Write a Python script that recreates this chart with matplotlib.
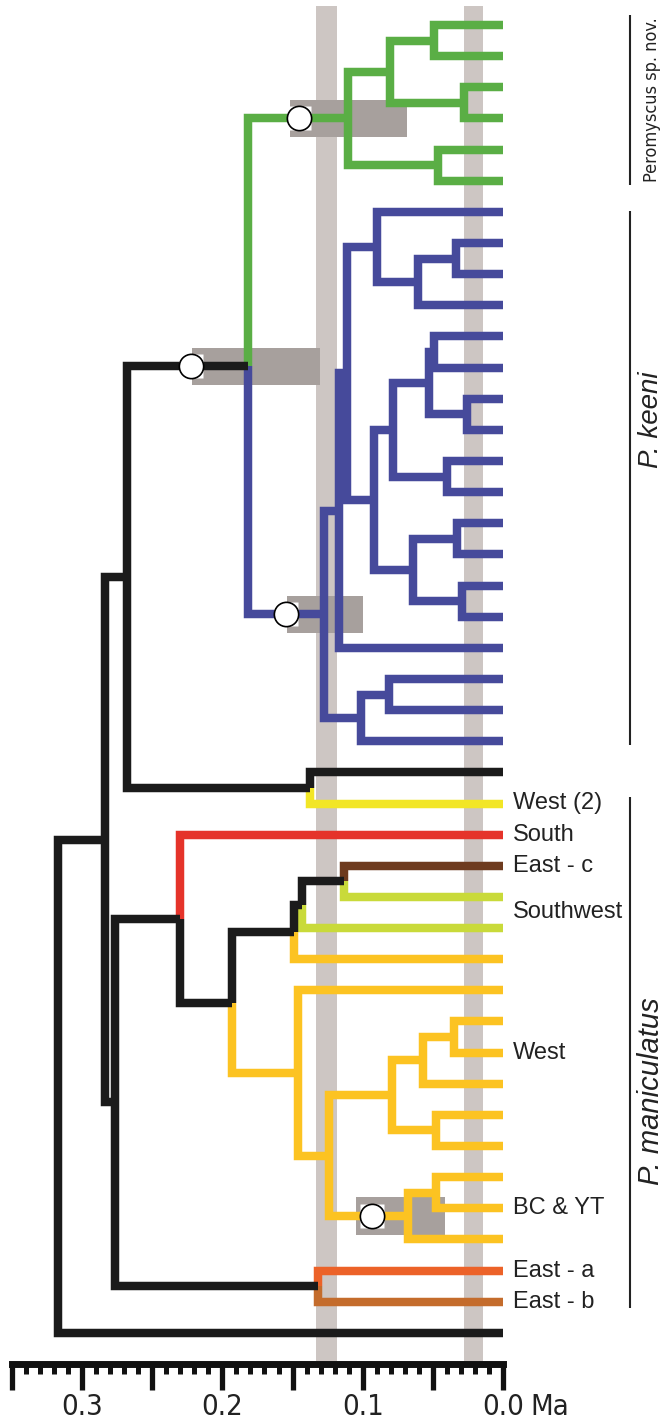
import matplotlib
matplotlib.use("Agg")
import matplotlib.pyplot as plt
from matplotlib.ticker import MultipleLocator, FuncFormatter

# ---------------- colours ----------------
GREEN = '#5aae45'
BLUE = '#464a9b'
BLACK = '#1b1b1b'
YEL = '#f2e626'
RED = '#e5332a'
BROWN = '#6e3b1f'
YG = '#c9da3a'
ORG = '#fcc322'
EA = '#ec6228'
EB = '#c46c2c'
BAND = '#cdc6c3'
BOX = '#a7a09d'

# ---------------- data ----------------
tip_colors = [GREEN] * 6 + [BLUE] * 18 + [BLACK, YEL, RED, BROWN, YG, YG] + [ORG] * 10 + [EA, EB, BLACK]
tip_names = ['t%d' % i for i in range(len(tip_colors))]

label_texts = ['West (2)', 'South', 'East - c', 'Southwest', 'West', 'BC & YT', 'East - a', 'East - b']
label_rows = [25, 26, 27, 28.5, 33, 38, 40, 41]

node_names = ['g11', 'g12', 'g1', 'g2', 'gC',
              'bE', 'bD', 'bC', 'bN', 'bO', 'bL', 'bM', 'bJ', 'bP', 'bQ', 'bK', 'bI', 'bH', 'bG', 'bB', 'bA', 'bCr',
              'K0', 'R', 'S', 'CC', 'BB', 'AA', 'II', 'HH', 'GG', 'FF', 'KK', 'JJ', 'EE', 'DD', 'W', 'V', 'Z', 'Y', 'U', 'root']
node_ages = [0.0492, 0.0278, 0.0805, 0.0463, 0.1105,
             0.0335, 0.0606, 0.0900, 0.0490, 0.0257, 0.0530, 0.0400, 0.0784, 0.0330, 0.0295, 0.0641, 0.0920, 0.1110, 0.1170, 0.0813, 0.1010, 0.1276,
             0.1818, 0.1376, 0.2680, 0.1133, 0.1433, 0.1490, 0.0349, 0.0570, 0.0478, 0.0791, 0.0478, 0.0677, 0.1240, 0.1461, 0.1932, 0.2302, 0.1319, 0.2765, 0.2837, 0.3172]
node_children = [('t0', 't1'), ('t2', 't3'), ('g11', 'g12'), ('t4', 't5'), ('g1', 'g2'),
                 ('t7', 't8'), ('bE', 't9'), ('t6', 'bD'), ('t10', 't11'), ('t12', 't13'), ('bN', 'bO'), ('t14', 't15'),
                 ('bL', 'bM'), ('t16', 't17'), ('t18', 't19'), ('bP', 'bQ'), ('bJ', 'bK'), ('bC', 'bI'), ('bH', 't20'),
                 ('t21', 't22'), ('bB', 't23'), ('bG', 'bA'),
                 ('gC', 'bCr'), ('t24', 't25'), ('K0', 'R'), ('t27', 't28'), ('CC', 't29'), ('BB', 't30'),
                 ('t32', 't33'), ('II', 't34'), ('t35', 't36'), ('HH', 'GG'), ('t37', 't38'), ('KK', 't39'),
                 ('FF', 'JJ'), ('t31', 'EE'), ('AA', 'DD'), ('t26', 'W'), ('t40', 't41'), ('V', 'Z'), ('S', 'Y'), ('U', 't42')]
node_colors = [GREEN] * 5 + [BLUE] * 17 + [BLACK] * 6 + [ORG] * 8 + [BLACK] * 6

# divergence-time boxes (95% HPD) and calibration circles
box_nodes = ['gC', 'K0', 'bCr', 'JJ']
box_young = [0.0684, 0.1304, 0.0998, 0.0413]
box_old = [0.1518, 0.2217, 0.1540, 0.1048]
circle_ages = [0.1454, 0.2224, 0.1547, 0.0934]

# background bands (Ma)
band_young = [0.1183, 0.0143]
band_old = [0.1333, 0.0278]

# clades on the right
clade_first = [-0.32, 5.97, 24.8]
clade_last = [5.14, 23.12, 41.2]

# axis
axis_major = 0.05
axis_minor = 0.01
axis_max = 0.35

# ---------------- geometry ----------------
W, H, DPI = 664, 1421, 100
X0, PX_PER_MA = 503.0, 1403.0
Y0, PX_PER_ROW = 25.0, 31.14

def t_at(px):
    return (X0 - px) / PX_PER_MA

def row_at(py):
    return (py - Y0) / PX_PER_ROW

COND = dict(family=['DejaVu Sans'], fontstretch='condensed')

fig = plt.figure(figsize=(W / DPI, H / DPI), dpi=DPI)
ax = fig.add_axes([0, 0, 1, 1])
ax.set_xlim(t_at(0), t_at(W))
ax.set_ylim(row_at(H), row_at(0))
ax.axis('off')

# positions
age = {n: 0.0 for n in tip_names}
ypos = {n: float(i) for i, n in enumerate(tip_names)}
color = dict(zip(tip_names, tip_colors))
kids = dict(zip(node_names, node_children))
for n, a, ch, c in zip(node_names, node_ages, node_children, node_colors):
    age[n] = a
    ypos[n] = (ypos[ch[0]] + ypos[ch[-1]]) / 2.0
    color[n] = c

LW = 6.1
# bands
for y0, o0 in zip(band_young, band_old):
    ax.axvspan(o0, y0, ymin=1 - 1361 / H, ymax=1 - 6 / H, color=BAND, lw=0, zorder=0)

# boxes
for n, yo, ol in zip(box_nodes, box_young, box_old):
    ax.fill_between([ol, yo], ypos[n] - 0.6, ypos[n] + 0.6, color=BOX, lw=0, zorder=1)

# branches
for n in node_names:
    for ch in kids[n]:
        ax.plot([age[n], age[n], age[ch]], [ypos[n], ypos[ch], ypos[ch]], color=color[ch],
                lw=LW, solid_joinstyle='miter', solid_capstyle='butt', zorder=2)

# circles
for n, ca in zip(box_nodes, circle_ages):
    ax.plot([ca], [ypos[n]], marker='s', ms=17, mfc='white', mec='none', zorder=3)
    ax.plot([ca], [ypos[n]], marker='o', ms=17.5, mfc='white', mec='black', mew=1.2, zorder=4)

# tip labels
for txt, r in zip(label_texts, label_rows):
    ax.text(t_at(513), r, txt, ha='left', va='center', fontsize=17,
            family=['Liberation Sans', 'DejaVu Sans'], color='#222222')

# clade bars and names
xb = t_at(630)
for f, l in zip(clade_first, clade_last):
    ax.plot([xb, xb], [f, l], color='#222222', lw=1.5, solid_capstyle='butt')

ax.text(t_at(652), row_at(100), 'Peromyscus sp. nov.', rotation=90, ha='center', va='center',
        fontsize=13, color='#222222', **COND)
ax.text(t_at(651), row_at(420), 'P. keeni', rotation=90, ha='center', va='center', style='italic',
        fontsize=20, family=['Liberation Sans', 'DejaVu Sans'], color='#222222')
ax.text(t_at(651), row_at(1091), 'P. maniculatus', rotation=90, ha='center', va='center', style='italic',
        fontsize=21, family=['Liberation Sans', 'DejaVu Sans'], color='#222222')

# time axis
ax2 = fig.add_axes([(X0 - axis_max * PX_PER_MA) / W, 1 - 1363.5 / H, axis_max * PX_PER_MA / W, 0.0])
ax2.set_xlim(axis_max, 0)
ax2.set_yticks([])
for s in ('top', 'left', 'right'):
    ax2.spines[s].set_visible(False)
ax2.spines['bottom'].set_linewidth(5.0)
ax2.spines['bottom'].set_color('#111111')
ax2.spines['bottom'].set_capstyle('projecting')
ax2.patch.set_visible(False)
ax2.xaxis.set_major_locator(MultipleLocator(axis_major))
ax2.xaxis.set_minor_locator(MultipleLocator(axis_minor))
ax2.xaxis.set_major_formatter(FuncFormatter(lambda v, p: ('%.1f' % abs(v)) if abs(round(v * 10) - v * 10) < 1e-6 else ''))
ax2.tick_params(axis='x', which='major', direction='out', length=19, width=3.8, color='#111111', pad=2,
                labelsize=21)
ax2.tick_params(axis='x', which='minor', direction='out', length=7.5, width=3.6, color='#111111')
for lab in ax2.get_xticklabels():
    lab.set_family(['DejaVu Sans'])
    lab.set_fontstretch('condensed')
    lab.set_color('#222222')
ax2.annotate('Ma', xy=(0, 0), xycoords='data', xytext=(20, -21.5), textcoords='offset points',
             ha='left', va='top', fontsize=21, color='#222222', annotation_clip=False, **COND)

fig.savefig('out.png', dpi=DPI)
